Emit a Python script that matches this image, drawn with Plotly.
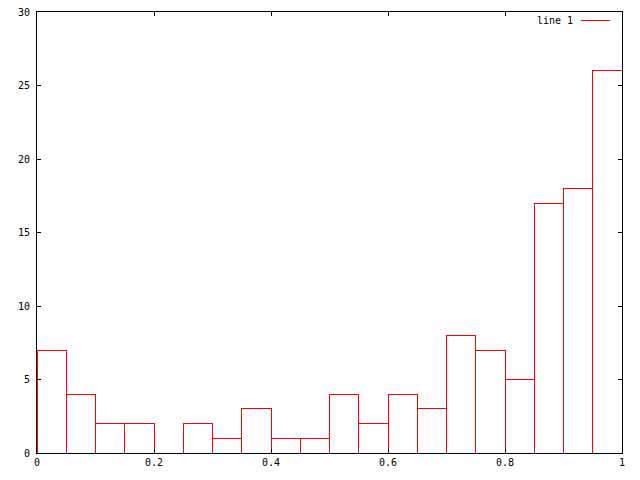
import plotly.graph_objects as go

bin_centers = [0.025 + 0.05 * i for i in range(20)]
counts = [7, 4, 2, 2, 0, 2, 1, 3, 1, 1, 4, 2, 4, 3, 8, 7, 5, 17, 18, 26]
bin_width = 0.05
x_ticks = [0, 0.2, 0.4, 0.6, 0.8, 1]
y_ticks = [0, 5, 10, 15, 20, 25, 30]
series_name = "line 1"

# box outlines (gnuplot "with boxes" style) built from the data
xs, ys = [], []
for c, v in zip(bin_centers, counts):
    if v == 0:
        continue  # an empty box lies on the x axis line
    x0, x1 = c - bin_width / 2, c + bin_width / 2
    xs += [x0, x0, x1, x1, None]
    ys += [0, v, v, 0, None]

fig = go.Figure()
fig.add_trace(go.Scatter(
    x=xs, y=ys, mode="lines", line=dict(color="#ff0000", width=1),
    name=series_name, showlegend=False, connectgaps=False, hoverinfo="skip",
))

font = dict(family="DejaVu Sans Mono", size=10, color="black")
axis_common = dict(showline=True, linecolor="black", linewidth=1, mirror="ticks",
                   ticks="inside", ticklen=4, tickcolor="black", showgrid=False,
                   zeroline=False, tickfont=font, layer="above traces", automargin=False)
fig.update_layout(
    width=640, height=480,
    margin=dict(l=37, r=18, t=12, b=27, pad=0),
    paper_bgcolor="white", plot_bgcolor="white",
    xaxis=dict(range=[0, 1], tickvals=x_ticks, ticktext=[str(v) for v in x_ticks], **axis_common),
    yaxis=dict(range=[0, 30], tickvals=y_ticks, ticktext=[str(v) for v in y_ticks],
               ticklabelstandoff=4, **axis_common),
    font=font,
)
fig.add_annotation(x=0.919, y=0.980, xref="paper", yref="paper", text=series_name,
                   showarrow=False, xanchor="right", yanchor="middle", font=font)
fig.add_shape(type="line", xref="paper", yref="paper", x0=0.930, x1=0.979, y0=0.980, y1=0.980,
              line=dict(color="#ff0000", width=1))
post = (
    "document.body.style.margin='0';document.body.style.overflow='hidden';"
    "var s=document.createElement('style');"
    "s.textContent='.main-svg path{shape-rendering:crispEdges}';"
    "document.head.appendChild(s);"
)
fig.write_html("out.html", config={"displayModeBar": False}, post_script=post)
